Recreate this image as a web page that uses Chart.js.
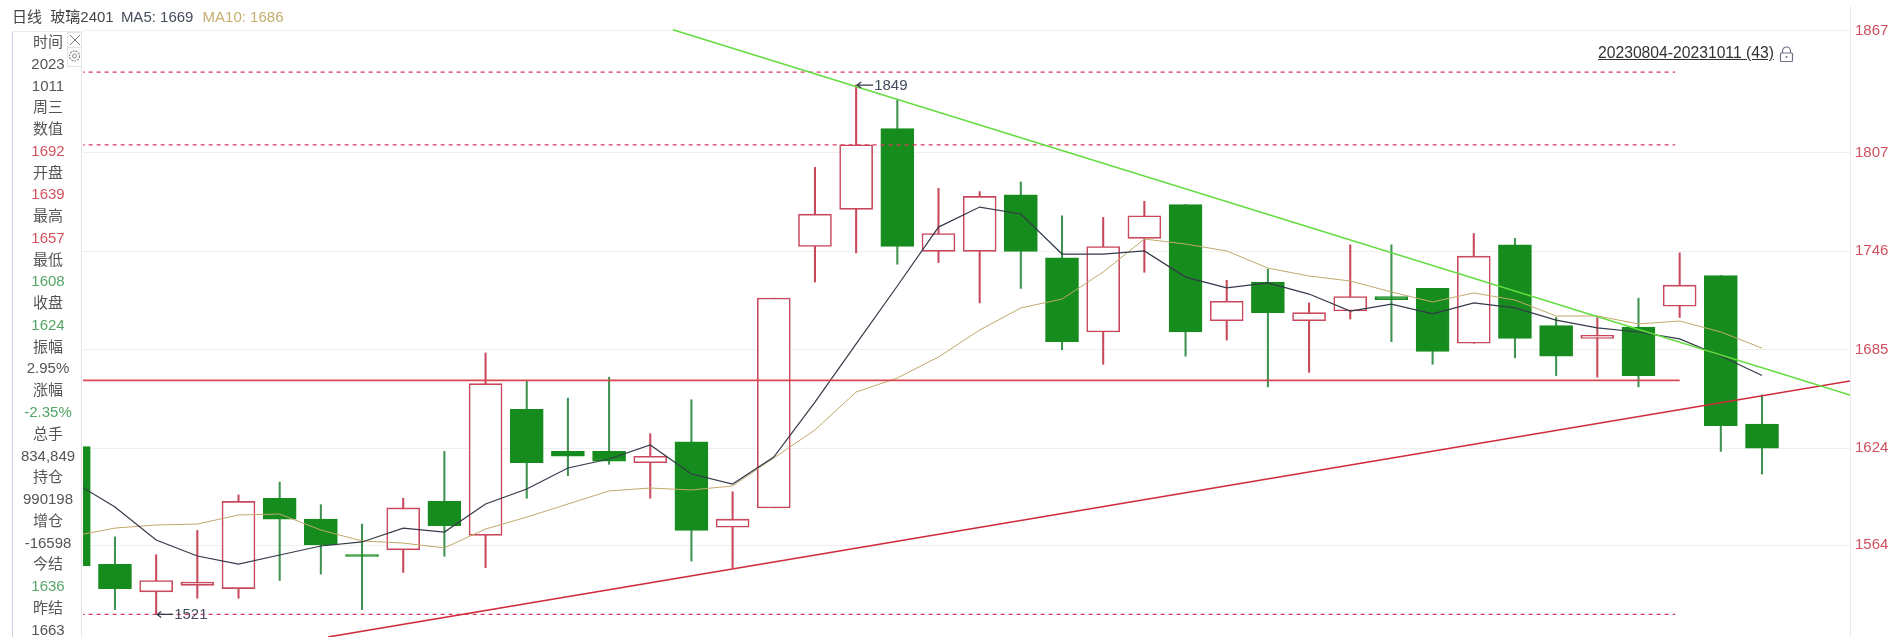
<!DOCTYPE html>
<html>
<head>
<meta charset="utf-8">
<title>玻璃2401</title>
<script src="https://cdn.jsdelivr.net/npm/chart.js@4"></script>
<style>
    html, body { margin: 0; padding: 0; background: #fff; overflow: hidden; }
    body { width: 1892px; height: 637px; position: relative; font-family: "Liberation Sans", "Noto Sans CJK SC", sans-serif; }
    #klineChart { position: absolute; left: 0; top: 0; }
    #title { position: absolute; left: 12px; top: 8px; font-size: 15px; line-height: 18px; color: #444; white-space: pre; }
    #title .ma5 { color: #444c5c; margin-left: 3px; }
    #title .ma10 { color: #c4ad6e; margin-left: 5px; }
    #panel { position: absolute; left: 12px; top: 31px; width: 70px; height: 606px; background: #fff; border-left: 1.5px solid #ccd1e2; border-right: 1px solid #e2e5ef; border-top: 1px solid #ececf0; box-sizing: border-box; }
    #panel div.row { height: 21.78px; line-height: 21.78px; width: 70px; text-align: center; font-size: 15px; color: #555; white-space: nowrap; position: relative; top: -1px; }
    .up { color: #d4535f !important; }
    .down { color: #55a565 !important; }
    #closeBtn, #gearBtn { position: absolute; left: 67px; width: 15px; border: 1px solid #e0e3ec; background: #fff; box-sizing: border-box; }
    #closeBtn { top: 32px; height: 16px; }
    #gearBtn { top: 47px; height: 20px; }
    #rangeLabel { position: absolute; left: 1598px; top: 44px; font-size: 15.7px; line-height: 18px; color: #333; text-decoration: underline; white-space: nowrap; }
    #lockIcon { position: absolute; left: 1779px; top: 46px; }
</style>
</head>
<body>
<canvas id="klineChart" width="1892" height="637"></canvas>
<div id="title">日线  玻璃2401 <span class="ma5">MA5: 1669</span> <span class="ma10">MA10: 1686</span></div>
<div id="panel"></div>
<div id="closeBtn"><svg width="13" height="14"><path d="M2 2 L12 12 M12 2 L2 12" stroke="#777" stroke-width="1" fill="none"/></svg></div>
<div id="gearBtn"><svg width="13" height="18"><circle cx="6.5" cy="8" r="5" stroke="#888" stroke-width="1.2" stroke-dasharray="2 1" fill="none"/><circle cx="6.5" cy="8" r="2" stroke="#888" fill="none"/></svg></div>
<div id="rangeLabel">20230804-20231011 (43)</div>
<svg id="lockIcon" width="15" height="17"><path d="M3.5 7 V5 A4 4 0 0 1 11.5 5 V7" stroke="#70748a" stroke-width="1.2" fill="none"/><rect x="1.5" y="7" width="12" height="8.5" rx="1" stroke="#70748a" stroke-width="1.2" fill="none"/><circle cx="7.5" cy="11" r="1" fill="#70748a"/></svg>

<script>
// candle data
var opens  = [1625, 1552, 1535, 1539, 1537, 1593, 1580, 1558, 1561, 1591, 1570, 1648, 1622, 1622, 1615, 1628, 1575, 1587, 1749, 1772, 1822, 1746, 1746, 1781, 1742, 1696, 1754, 1775, 1703, 1727, 1703, 1709, 1718, 1723, 1689, 1750, 1700, 1692, 1699, 1712, 1731, 1639];
var highs  = [1625, 1569, 1558, 1573, 1595, 1603, 1589, 1577, 1593, 1622, 1683, 1666, 1655, 1668, 1633, 1654, 1597, 1717, 1798, 1849, 1840, 1785, 1783, 1789, 1768, 1767, 1777, 1775, 1728, 1735, 1714, 1750, 1750, 1723, 1757, 1754, 1705, 1705, 1717, 1745, 1731, 1657];
var lows   = [1551, 1524, 1521, 1531, 1531, 1542, 1546, 1524, 1547, 1557, 1550, 1593, 1607, 1614, 1593, 1554, 1550, 1587, 1727, 1745, 1738, 1739, 1714, 1723, 1685, 1676, 1733, 1681, 1691, 1662, 1671, 1704, 1690, 1676, 1689, 1680, 1669, 1668, 1662, 1705, 1622, 1608];
var closes = [1551, 1537, 1542, 1541, 1591, 1580, 1564, 1557, 1587, 1576, 1664, 1615, 1619, 1616, 1619, 1573, 1580, 1717, 1769, 1812, 1749, 1757, 1780, 1746, 1690, 1749, 1768, 1696, 1715, 1708, 1708, 1718, 1716, 1684, 1743, 1692, 1681, 1694, 1669, 1725, 1638, 1624];

var ma5  = [1603, 1587.5, 1567.1, 1557.2, 1552.2, 1557.8, 1563.4, 1565.9, 1574.5, 1572, 1589.4, 1598.7, 1611.7, 1617.3, 1626, 1608, 1601.8, 1618.5, 1652.6, 1688.6, 1724.5, 1761, 1773.4, 1769.1, 1744.3, 1744.3, 1746.2, 1730, 1723.3, 1726.4, 1719.5, 1709, 1713.3, 1707.2, 1714, 1710.9, 1703.4, 1698.5, 1696, 1691.7, 1681.1, 1669];
var ma10 = [1569.6, 1574.5, 1576.4, 1577, 1582.6, 1583.2, 1573.3, 1566.5, 1565.2, 1562.2, 1573.9, 1581.3, 1589.4, 1597.5, 1599.3, 1598.1, 1600.6, 1617.9, 1635.3, 1658.8, 1667.5, 1680.5, 1697.2, 1710.9, 1716.4, 1733.2, 1753.6, 1750.5, 1746.2, 1735.6, 1730.7, 1727.6, 1720.8, 1714.6, 1720.2, 1715.8, 1705.9, 1705.9, 1701, 1702.8, 1696, 1686];

// axis: the top label sits higher than its value on the original, so grid position and text are separate
var gridValues = [1564, 1624, 1685, 1746, 1807, 1882.6];
var tickLabels = ['1564', '1624', '1685', '1746', '1807', '1867'];

// drawn lines
var dashedLevels = [1857, 1812, 1521];
var dashedEnd = 38.89;
var solidLevel = 1666;
var solidEnd = 39;
var greenTrendX = [14.55, 43.137];
var greenTrendY = [1883.3, 1657];
var redTrendX = [6.17, 43.137];
var redTrendY = [1507, 1665.6];

// side panel text
var panelRows = ['时间', '2023', '1011', '周三', '数值', '1692', '开盘', '1639', '最高', '1657', '最低', '1608', '收盘', '1624', '振幅', '2.95%', '涨幅', '-2.35%', '总手', '834,849', '持仓', '990198', '增仓', '-16598', '今结', '1636', '昨结', '1663'];
var panelRed = ['1692', '1639', '1657'];
var panelGreen = ['1608', '1624', '-2.35%', '1636'];

var redColor = '#c9485b';
var greenFill = '#168c1e';
var greenWick = '#3f9250';

document.addEventListener('DOMContentLoaded', function () {
    // Fill the side panel
    var panel = document.getElementById('panel');
    panelRows.forEach(function (text) {
        var row = document.createElement('div');
        row.className = 'row';
        if (panelRed.indexOf(text) >= 0) row.className += ' up';
        if (panelGreen.indexOf(text) >= 0) row.className += ' down';
        row.textContent = text;
        panel.appendChild(row);
    });

    var isUp = opens.map(function (o, i) { return closes[i] >= o; });

    var wickData = highs.map(function (h, i) { return { x: i, y: [lows[i], h] }; });
    var bodyData = opens.map(function (o, i) { return { x: i, y: [o, closes[i]] }; });
    var toLine = function (arr) { return arr.map(function (v, i) { return { x: i, y: v }; }); };
    var segment = function (xs, ys) { return xs.map(function (x, i) { return { x: x, y: ys[i] }; }); };

    var datasets = [
        {
            type: 'bar',
            data: wickData,
            grouped: false,
            barThickness: 1.4,
            backgroundColor: isUp.map(function (u) { return u ? redColor : greenWick; }),
            order: 9
        },
        {
            type: 'bar',
            data: bodyData,
            grouped: false,
            barThickness: 33,
            borderWidth: 1.6,
            borderSkipped: false,
            backgroundColor: isUp.map(function (u) { return u ? '#ffffff' : greenFill; }),
            borderColor: isUp.map(function (u) { return u ? redColor : greenFill; }),
            order: 8
        },
        { type: 'line', data: toLine(ma10), borderColor: '#c2a86a', borderWidth: 1, pointRadius: 0, order: 7 },
        { type: 'line', data: toLine(ma5), borderColor: '#333a48', borderWidth: 1.2, pointRadius: 0, order: 6 }
    ];

    // Dashed levels
    dashedLevels.forEach(function (level) {
        datasets.push({
            type: 'line',
            data: segment([-1, dashedEnd], [level, level]),
            borderColor: '#d93a5c',
            borderWidth: 1.3,
            borderDash: [4, 4],
            pointRadius: 0,
            order: 5
        });
    });

    datasets.push({ type: 'line', data: segment([-1, solidEnd], [solidLevel, solidLevel]), borderColor: '#d9484f', borderWidth: 1.6, pointRadius: 0, order: 4 });
    datasets.push({ type: 'line', data: segment(redTrendX, redTrendY), borderColor: '#cf2c3c', borderWidth: 1.6, pointRadius: 0, order: 3 });
    datasets.push({ type: 'line', data: segment(greenTrendX, greenTrendY), borderColor: '#62dc3e', borderWidth: 1.5, pointRadius: 0, order: 2 });

    // Arrow and value at the highest and lowest price
    var extremesPlugin = {
        id: 'extremes',
        afterDatasetsDraw: function (chart) {
            var ctx = chart.ctx;
            var xs = chart.scales.x;
            var ys = chart.scales.y;
            var marks = [
                { i: highs.indexOf(Math.max.apply(null, highs)), v: Math.max.apply(null, highs) },
                { i: lows.indexOf(Math.min.apply(null, lows)), v: Math.min.apply(null, lows) }
            ];
            ctx.save();
            ctx.font = '15px "Liberation Sans"';
            ctx.textBaseline = 'middle';
            marks.forEach(function (m) {
                var px = xs.getPixelForValue(m.i);
                var py = ys.getPixelForValue(m.v);
                ctx.strokeStyle = '#333a48';
                ctx.fillStyle = '#333a48';
                ctx.lineWidth = 1.2;
                ctx.beginPath();
                ctx.moveTo(px + 1, py);
                ctx.lineTo(px + 17, py);
                ctx.moveTo(px + 5, py - 3);
                ctx.lineTo(px + 1, py);
                ctx.lineTo(px + 5, py + 3);
                ctx.stroke();
                ctx.fillStyle = '#444c60';
                ctx.fillText(String(m.v), px + 18, py + 0.5);
            });
            ctx.restore();
        }
    };

    new Chart(document.getElementById('klineChart').getContext('2d'), {
        type: 'line',
        data: { datasets: datasets },
        plugins: [extremesPlugin],
        options: {
            responsive: false,
            animation: false,
            layout: { padding: { left: 83, top: 6, right: 0, bottom: 0 } },
            plugins: { legend: { display: false }, tooltip: { enabled: false } },
            scales: {
                x: { type: 'linear', display: false, offset: false, min: 0.2234, max: 43.137 },
                y: {
                    position: 'right',
                    min: 1507,
                    max: 1898,
                    afterBuildTicks: function (axis) {
                        axis.ticks = gridValues.map(function (v) { return { value: v }; });
                    },
                    afterFit: function (axis) {
                        // tick labels must not shrink the plot area
                        axis.width = 42;
                        axis.paddingTop = 0;
                        axis.paddingBottom = 0;
                    },
                    border: { color: '#e9e9ef', width: 1 },
                    grid: { color: '#efefef', drawTicks: false },
                    ticks: {
                        autoSkip: false,
                        padding: 5,
                        color: '#d0505f',
                        font: { family: '"Liberation Sans"', size: 15 },
                        callback: function (value, index) { return tickLabels[index]; }
                    }
                }
            }
        }
    });
});
</script>
</body>
</html>
